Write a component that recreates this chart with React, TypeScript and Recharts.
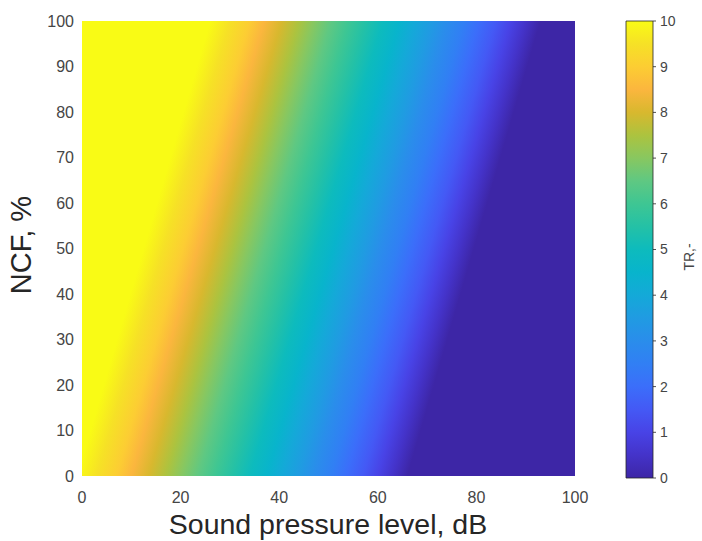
import React from 'react';
import { ComposedChart, XAxis, YAxis, ReferenceArea, Scatter } from 'recharts';

// Axis ticks
const splTicks = [0, 20, 40, 60, 80, 100];
const ncfTicks = [0, 10, 20, 30, 40, 50, 60, 70, 80, 90, 100];
const trTicks = [0, 1, 2, 3, 4, 5, 6, 7, 8, 9, 10];

// TR levels (colour scale) and where each level sits (SPL, dB)
const trLevels = [10, 9.5, 9, 8.5, 8, 7.5, 7, 6.5, 6, 5.5, 5, 4.5, 4, 3.5, 3, 2.5, 2, 1.5, 1, 0.5, 0];
const splAtNcf0 = [-1, 3, 7, 10, 13.5, 17, 20, 23.5, 27, 30.5, 34, 37.5, 40.5, 44, 47, 50.5, 53.5, 57, 60, 63, 66];
const splAtNcf100 = [26, 30, 34, 37, 40.5, 44, 47, 50.5, 54, 57.5, 61, 64.5, 67.5, 71, 74, 77.5, 80.5, 84, 87, 90, 93];

// parula colours for each TR level above
const parulaColors = [
  '#f9fb15', '#f6e126', '#fccd33', '#fbb63e', '#d8b82e', '#acc33f', '#88c760',
  '#5fc882', '#3ec693', '#24c1a6', '#0dbbbd', '#08b4cc', '#14a9d8', '#209be2',
  '#2a8deb', '#317ff4', '#3b6efa', '#4459f5', '#4843e6', '#4433c9', '#3d26a6',
];

const FONT = '"Liberation Sans", Arial, Helvetica, sans-serif';

const n = splAtNcf0.length;
const drift = splAtNcf0.reduce((s, v, i) => s + (splAtNcf100[i] - v), 0) / n; // dB shift from NCF 0 to 100
const cMin = splAtNcf0[0];
const cMax = splAtNcf0[n - 1];
const a = drift / 100;
const gx1 = a + cMin / 100;
const gk = (cMax - cMin) / 100 / (1 + a * a);
const gx2 = gx1 + gk;
const gy2 = gk * a;

// corner rows of the surface (used to give the charts their data)
const surfaceRows = [
  { spl: 0, ncf: 0 },
  { spl: 100, ncf: 100 },
];
const barRows = trTicks.map((tr) => ({ x: 0.5, tr }));

export default function App() {
  return (
    <div style={{ position: 'absolute', left: 0, top: 0, width: 702, height: 541, overflow: 'hidden', background: '#fff' }}>
      <div style={{ position: 'absolute', left: 0, top: 0 }}>
        <ComposedChart width={702} height={541} margin={{ top: 21, right: 127, bottom: 0, left: 0 }} data={surfaceRows}>
          <defs>
            <linearGradient id="trSurface" gradientUnits="objectBoundingBox" x1={gx1} y1={0} x2={gx2} y2={gy2}>
              {trLevels.map((tr, i) => (
                <stop key={tr} offset={(splAtNcf0[i] - cMin) / (cMax - cMin)} stopColor={parulaColors[i]} />
              ))}
            </linearGradient>
          </defs>
          <XAxis
            type="number"
            dataKey="spl"
            domain={[0, 100]}
            ticks={splTicks}
            interval={0}
            height={65}
            axisLine={false}
            tickLine={false}
            tickSize={6}
            tickMargin={10}
            tick={{ fontSize: 16, fill: '#454545', fontFamily: FONT }}
          />
          <YAxis
            type="number"
            dataKey="ncf"
            domain={[0, 100]}
            ticks={ncfTicks}
            interval={0}
            width={82}
            axisLine={false}
            tickLine={false}
            tickSize={6}
            tickMargin={2}
            tick={{ fontSize: 16, fill: '#454545', fontFamily: FONT }}
          />
          <ReferenceArea
            x1={0}
            x2={100}
            y1={0}
            y2={100}
            fill="url(#trSurface)"
            fillOpacity={1}
            stroke="none"
          />
          <Scatter data={surfaceRows} dataKey="ncf" fill="none" isAnimationActive={false} shape={() => <g />} />
        </ComposedChart>
      </div>
      <div style={{ position: 'absolute', left: 600, top: 0 }}>
        <ComposedChart width={102} height={541} margin={{ top: 21, right: 0, bottom: 63, left: 26 }} data={barRows}>
          <defs>
            <linearGradient id="trBar" x1={0} y1={1} x2={0} y2={0}>
              {trLevels
                .map((tr, i) => ({ tr, c: parulaColors[i] }))
                .reverse()
                .map((s) => (
                  <stop key={s.tr} offset={s.tr / 10} stopColor={s.c} />
                ))}
            </linearGradient>
          </defs>
          <XAxis type="number" dataKey="x" domain={[0, 1]} hide />
          <YAxis
            type="number"
            dataKey="tr"
            orientation="right"
            domain={[0, 10]}
            ticks={trTicks}
            interval={0}
            width={49}
            axisLine={false}
            tickLine={{ stroke: '#262626', strokeWidth: 0.8 }}
            tickSize={3}
            tickMargin={4}
            tick={{ fontSize: 14, fill: '#454545', fontFamily: FONT }}
          />
          <ReferenceArea
            x1={0}
            x2={1}
            y1={0}
            y2={10}
            fill="url(#trBar)"
            fillOpacity={1}
            stroke="#262626"
            strokeWidth={0.8}
          />
          <Scatter data={barRows} dataKey="tr" fill="none" isAnimationActive={false} shape={() => <g />} />
        </ComposedChart>
      </div>
      <div
        style={{
          position: 'absolute', left: 328, top: 524, transform: 'translate(-50%, -50%)',
          fontFamily: FONT, fontSize: 28.5, color: '#262626', whiteSpace: 'nowrap', lineHeight: 1,
        }}
      >
        Sound pressure level, dB
      </div>
      <div
        style={{
          position: 'absolute', left: 21, top: 245, transform: 'translate(-50%, -50%) rotate(-90deg)',
          fontFamily: FONT, fontSize: 29, color: '#262626', whiteSpace: 'nowrap', lineHeight: 1,
        }}
      >
        NCF, %
      </div>
      <div
        style={{
          position: 'absolute', left: 689, top: 257, transform: 'translate(-50%, -50%) rotate(-90deg)',
          fontFamily: FONT, fontSize: 14, color: '#454545', whiteSpace: 'nowrap', lineHeight: 1,
        }}
      >
        TR,-
      </div>
    </div>
  );
}
